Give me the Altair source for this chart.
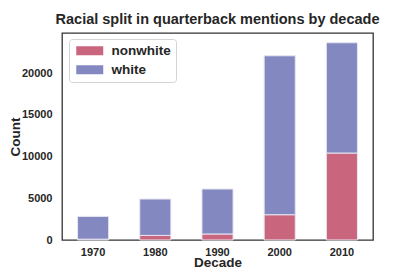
import altair as alt
import pandas as pd

decades = ["1970", "1980", "1990", "2000", "2010"]
nonwhite = [100, 550, 720, 3030, 10420]
white = [2730, 4360, 5390, 19040, 13210]
groups = ["nonwhite", "white"]
colors = ["#c9667d", "#8488c0"]
y_ticks = [0, 5000, 10000, 15000, 20000]

rows = []
for i, d in enumerate(decades):
    rows.append({"Decade": d, "group": "nonwhite", "Count": nonwhite[i], "ord": 0})
    rows.append({"Decade": d, "group": "white", "Count": white[i], "ord": 1})
df = pd.DataFrame(rows)

font = "Liberation Sans"
ink = "#262626"

chart = alt.Chart(df).mark_bar(stroke="#e6e6f2", strokeWidth=1).encode(
    x=alt.X("Decade:N", sort=decades,
            scale=alt.Scale(paddingInner=0.5, paddingOuter=0.25),
            axis=alt.Axis(title="Decade", labelAngle=0, ticks=False, domain=False,
                          labelPadding=6,
                          titleX=155.5, titleY=26.5, titleBaseline="alphabetic",
                          labelFont=font, labelFontWeight="bold", labelFontSize=11,
                          labelColor=ink,
                          titleFont=font, titleFontWeight="bold", titleFontSize=13.5,
                          titleColor=ink)),
    y=alt.Y("Count:Q", stack="zero",
            scale=alt.Scale(domain=[0, 24800], nice=False),
            axis=alt.Axis(title="Count", values=y_ticks, format="d", ticks=False,
                          domain=False, grid=False, labelPadding=10,
                          titleX=-43, titleY=103.5, titleBaseline="alphabetic",
                          titleAngle=270,
                          labelFont=font, labelFontWeight="bold", labelFontSize=11,
                          labelColor=ink,
                          titleFont=font, titleFontWeight="bold", titleFontSize=13.5,
                          titleColor=ink)),
    color=alt.Color("group:N", scale=alt.Scale(domain=groups, range=colors),
                    legend=alt.Legend(title=None, orient="none", legendX=7, legendY=6,
                                      symbolType="M-1,-1H5V1H-1Z", symbolSize=81,
                                      symbolStrokeWidth=0, symbolOpacity=1,
                                      labelFont=font, labelFontWeight="bold",
                                      labelFontSize=13.5, labelColor=ink,
                                      labelOffset=24, rowPadding=4, padding=5,
                                      strokeColor="#d4d4d4", fillColor="white",
                                      cornerRadius=3)),
    order=alt.Order("ord:Q", sort="ascending"),
).properties(
    width=311,
    height=207,
    title=alt.TitleParams("Racial split in quarterback mentions by decade",
                          font=font, fontWeight="bold", fontSize=14.5, color=ink,
                          anchor="middle", offset=6),
    autosize=alt.AutoSizeParams(type="none"),
    padding={"left": 54, "top": 25, "right": 34, "bottom": 29},
).configure_view(
    stroke="#333333", strokeWidth=1.3
)

chart.save("out.html", embed_options={"renderer": "svg", "actions": False})
